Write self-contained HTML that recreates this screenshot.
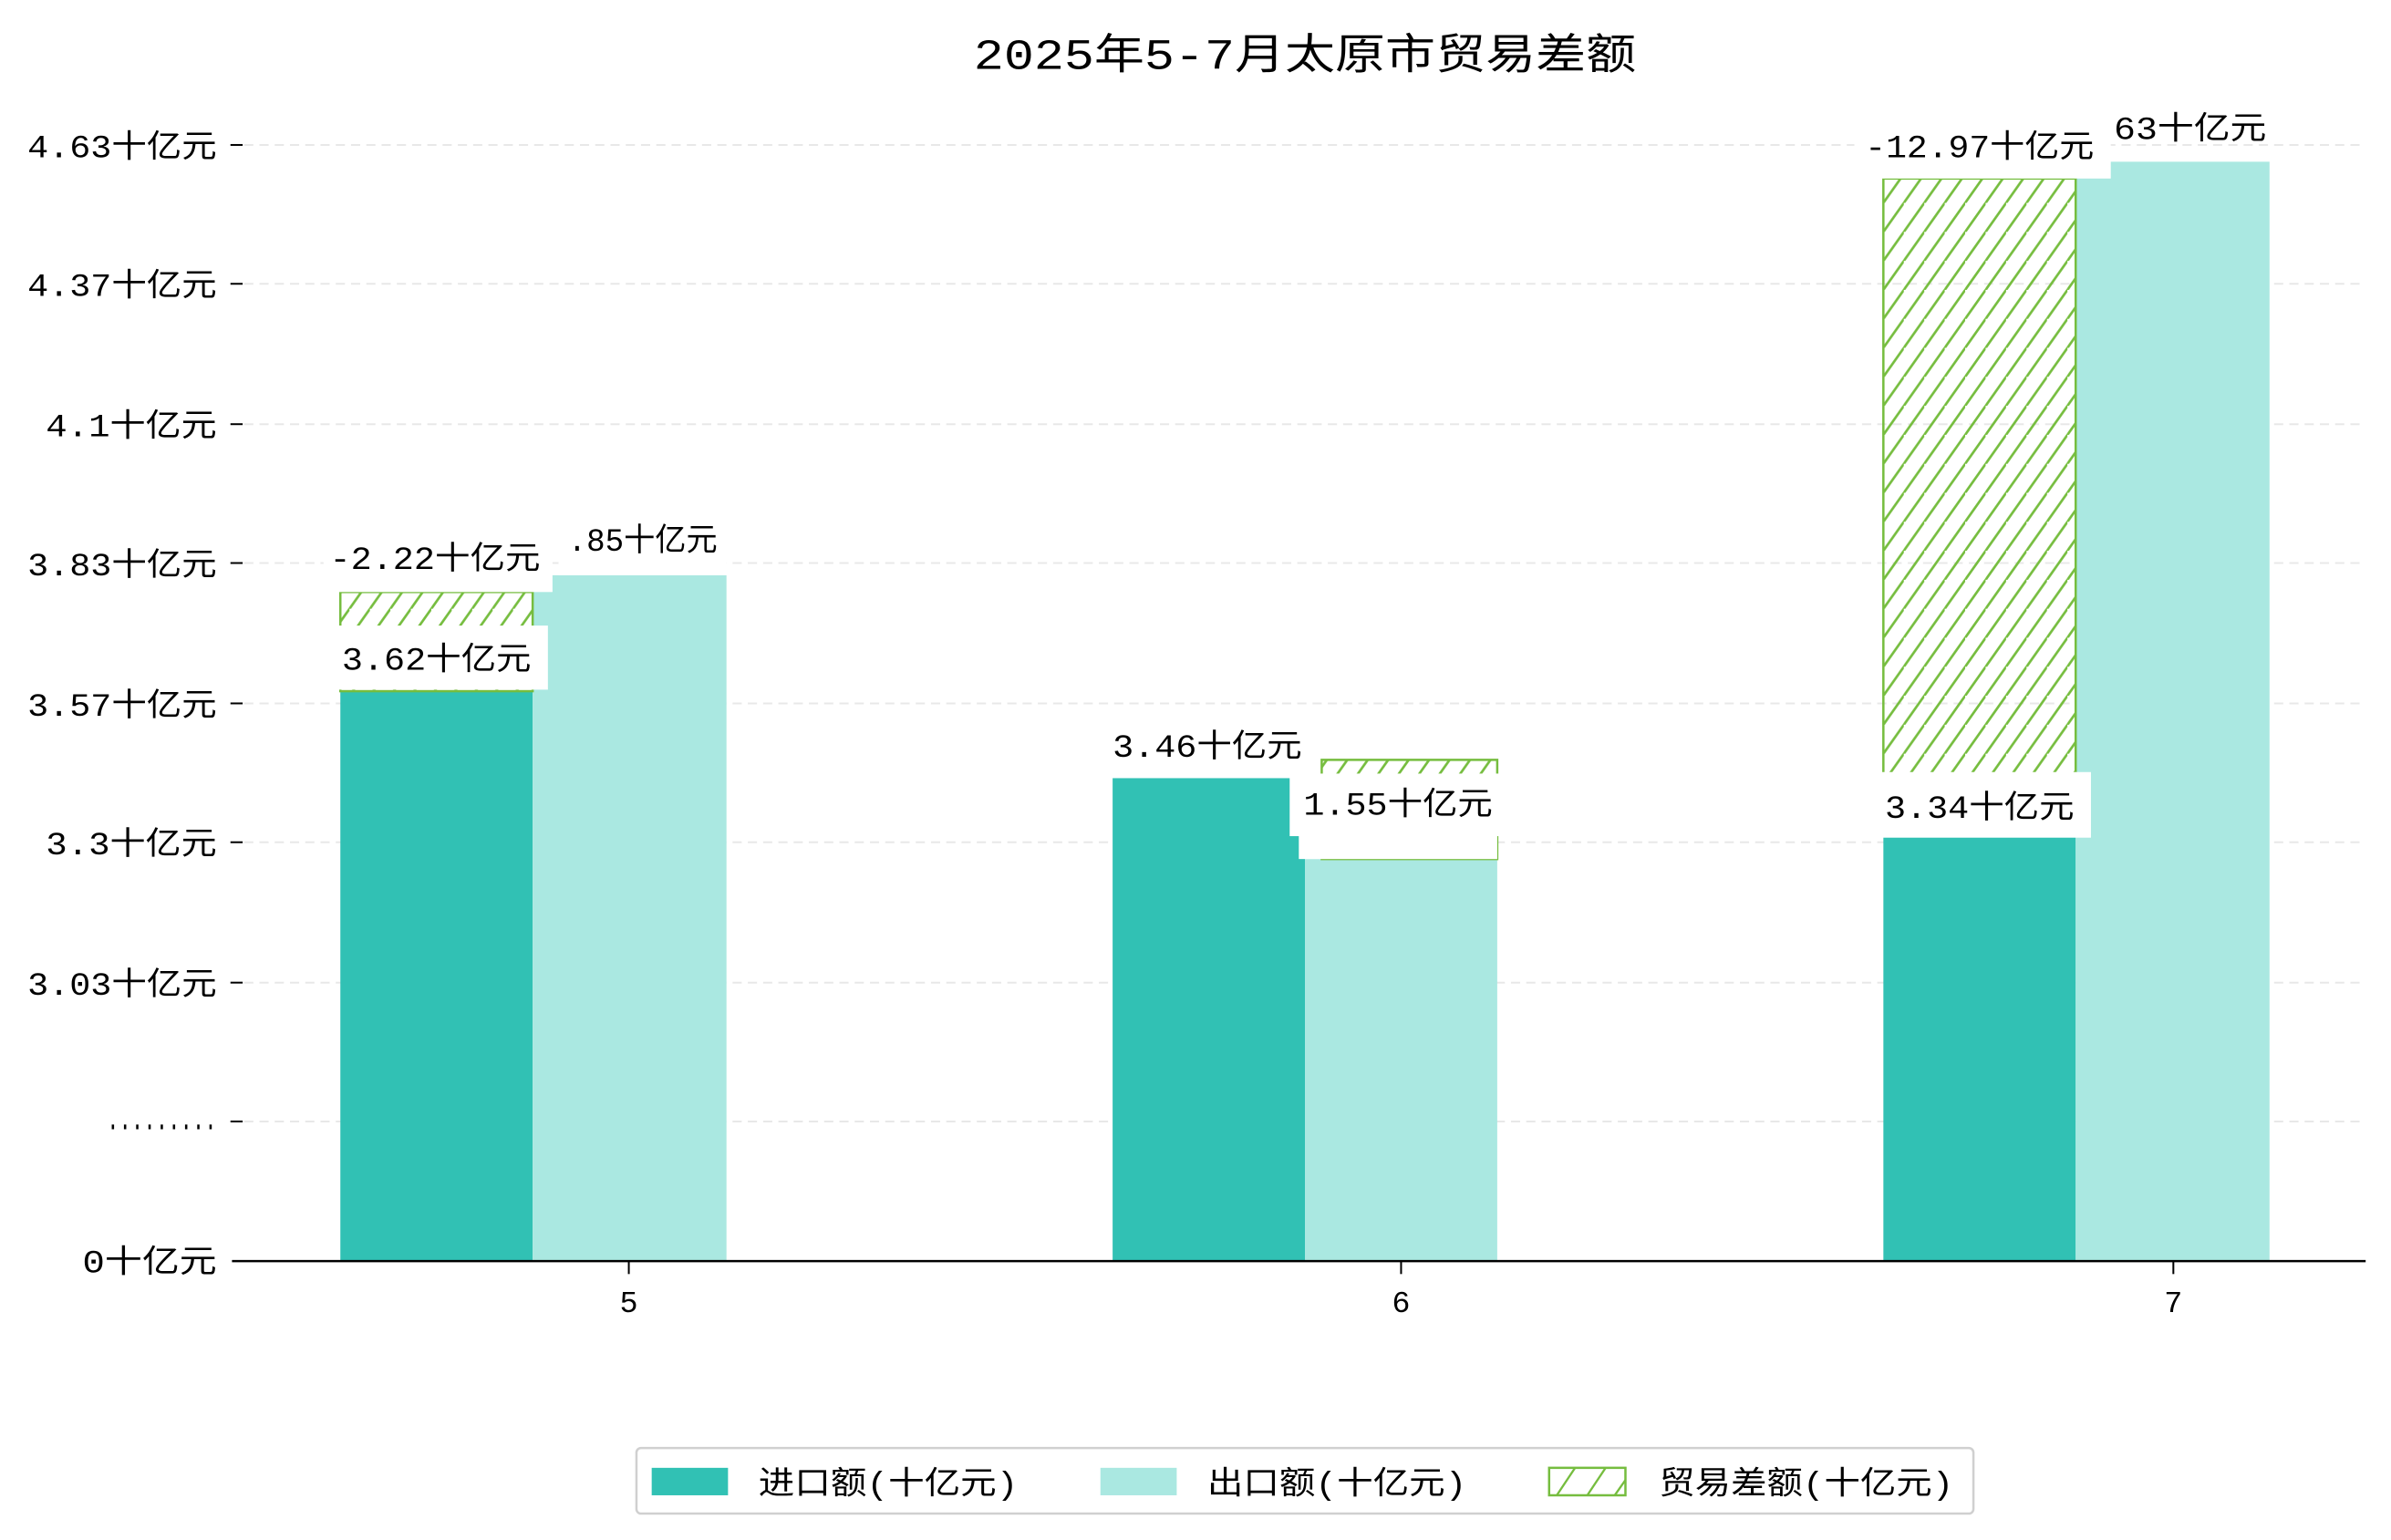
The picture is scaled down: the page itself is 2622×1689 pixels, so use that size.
<!DOCTYPE html>
<html><head><meta charset="utf-8"><style>
html,body{margin:0;padding:0;background:#fff;}
svg{display:block;}
text{font-family:"Liberation Mono","Noto Sans CJK SC",monospace;fill:#000;}
</style></head><body>
<svg width="2622" height="1689" viewBox="0 0 1566.6 1009.3" preserveAspectRatio="none" xmlns="http://www.w3.org/2000/svg">
<defs>
<pattern id="h" patternUnits="userSpaceOnUse" width="13.4" height="19" x="1234" y="0">
<line x1="-13.4" y1="38" x2="13.4" y2="0" stroke="#76bd3f" stroke-width="1.5"/>
<line x1="0" y1="38" x2="26.8" y2="0" stroke="#76bd3f" stroke-width="1.5"/>
<line x1="0" y1="19" x2="13.4" y2="0" stroke="#76bd3f" stroke-width="1.5"/>
</pattern>
</defs>
<rect width="1566.6" height="1009.3" fill="#fff"/>
<text x="855" y="45" font-size="28" text-anchor="middle" textLength="434" lengthAdjust="spacingAndGlyphs">2025年5-7月太原市贸易差额</text>
<g stroke="#e8e8e8" stroke-width="1.2" stroke-dasharray="6,4">
<line x1="160" y1="95" x2="1550" y2="95"/><line x1="160" y1="186" x2="1550" y2="186"/>
<line x1="160" y1="278" x2="1550" y2="278"/><line x1="160" y1="369" x2="1550" y2="369"/>
<line x1="160" y1="461" x2="1550" y2="461"/><line x1="160" y1="552" x2="1550" y2="552"/>
<line x1="160" y1="644" x2="1550" y2="644"/><line x1="160" y1="735" x2="1550" y2="735"/>
</g>
<g stroke="#000" stroke-width="1.2">
<line x1="151" y1="95" x2="159" y2="95"/><line x1="151" y1="186" x2="159" y2="186"/>
<line x1="151" y1="278" x2="159" y2="278"/><line x1="151" y1="369" x2="159" y2="369"/>
<line x1="151" y1="461" x2="159" y2="461"/><line x1="151" y1="552" x2="159" y2="552"/>
<line x1="151" y1="644" x2="159" y2="644"/><line x1="151" y1="735" x2="159" y2="735"/>
</g>
<g font-size="21" text-anchor="end">
<text x="142" y="103" textLength="124" lengthAdjust="spacingAndGlyphs">4.63十亿元</text>
<text x="142" y="194" textLength="124" lengthAdjust="spacingAndGlyphs">4.37十亿元</text>
<text x="142" y="286" textLength="112" lengthAdjust="spacingAndGlyphs">4.1十亿元</text>
<text x="142" y="377" textLength="124" lengthAdjust="spacingAndGlyphs">3.83十亿元</text>
<text x="142" y="469" textLength="124" lengthAdjust="spacingAndGlyphs">3.57十亿元</text>
<text x="142" y="560" textLength="112" lengthAdjust="spacingAndGlyphs">3.3十亿元</text>
<text x="142" y="652" textLength="124" lengthAdjust="spacingAndGlyphs">3.03十亿元</text>
<text x="142" y="740" textLength="72" lengthAdjust="spacingAndGlyphs">.........</text>
<text x="142" y="834" textLength="88" lengthAdjust="spacingAndGlyphs">0十亿元</text>
</g>
<rect x="223" y="453" width="126" height="373" fill="#31c1b4"/>
<rect x="349" y="377" width="127" height="449" fill="#aae8e1"/>
<rect x="223" y="388" width="126" height="65" fill="url(#h)" stroke="#76bd3f" stroke-width="1.5"/>
<rect x="729" y="510" width="126" height="316" fill="#31c1b4"/>
<rect x="855" y="563" width="126" height="263" fill="#aae8e1"/>
<rect x="866" y="498" width="115" height="65" fill="url(#h)" stroke="#76bd3f" stroke-width="1.5"/>
<rect x="1234" y="548" width="126" height="278" fill="#31c1b4"/>
<rect x="1360" y="106" width="127" height="720" fill="#aae8e1"/>
<rect x="1234" y="117" width="126" height="431" fill="url(#h)" stroke="#76bd3f" stroke-width="1.5"/>
<g font-size="21" text-anchor="middle">
<rect x="366" y="340" width="110" height="37" fill="#fff"/>
<text x="421" y="361" textLength="98" lengthAdjust="spacingAndGlyphs">.85十亿元</text>
<rect x="212" y="348" width="150" height="40" fill="#fff"/>
<text x="285" y="373" textLength="138" lengthAdjust="spacingAndGlyphs">-2.22十亿元</text>
<rect x="218" y="410" width="141" height="42" fill="#fff"/>
<text x="286" y="439" textLength="124" lengthAdjust="spacingAndGlyphs">3.62十亿元</text>
<text x="791" y="496" textLength="124" lengthAdjust="spacingAndGlyphs">3.46十亿元</text>
<rect x="851" y="540" width="130" height="23" fill="#fff"/>
<rect x="845" y="507" width="140" height="41" fill="#fff"/>
<text x="916" y="534" textLength="124" lengthAdjust="spacingAndGlyphs">1.55十亿元</text>
<rect x="1215" y="80" width="168" height="37" fill="#fff"/>
<text x="1297" y="103" textLength="150" lengthAdjust="spacingAndGlyphs">-12.97十亿元</text>
<text x="1435" y="91" textLength="100" lengthAdjust="spacingAndGlyphs">63十亿元</text>
<rect x="1229" y="506" width="141" height="43" fill="#fff"/>
<text x="1297" y="536" textLength="124" lengthAdjust="spacingAndGlyphs">3.34十亿元</text>
</g>
<line x1="152" y1="826.5" x2="1550" y2="826.5" stroke="#000" stroke-width="1.5"/>
<g stroke="#000" stroke-width="1.2">
<line x1="412" y1="827" x2="412" y2="835"/><line x1="918" y1="827" x2="918" y2="835"/><line x1="1424" y1="827" x2="1424" y2="835"/>
</g>
<g font-size="20" text-anchor="middle">
<text x="412" y="860">5</text><text x="918" y="860">6</text><text x="1424" y="860">7</text>
</g>
<rect x="417" y="949" width="876" height="43" rx="3" fill="#fff" stroke="#d0d0d0" stroke-width="1.5"/>
<rect x="427" y="962" width="50" height="18" fill="#31c1b4"/>
<rect x="721" y="962" width="50" height="18" fill="#aae8e1"/>
<rect x="1015" y="962" width="50" height="18" fill="#fff" stroke="#76bd3f" stroke-width="1.5"/>
<g stroke="#76bd3f" stroke-width="1.4"><line x1="1020" y1="980" x2="1032" y2="962"/><line x1="1040" y1="980" x2="1052" y2="962"/><line x1="1058" y1="980" x2="1065" y2="970"/></g>
<g font-size="21">
<text x="497" y="979" textLength="170" lengthAdjust="spacingAndGlyphs">进口额(十亿元)</text>
<text x="791" y="979" textLength="170" lengthAdjust="spacingAndGlyphs">出口额(十亿元)</text>
<text x="1087" y="979" textLength="193" lengthAdjust="spacingAndGlyphs">贸易差额(十亿元)</text>
</g>
</svg>
</body></html>
